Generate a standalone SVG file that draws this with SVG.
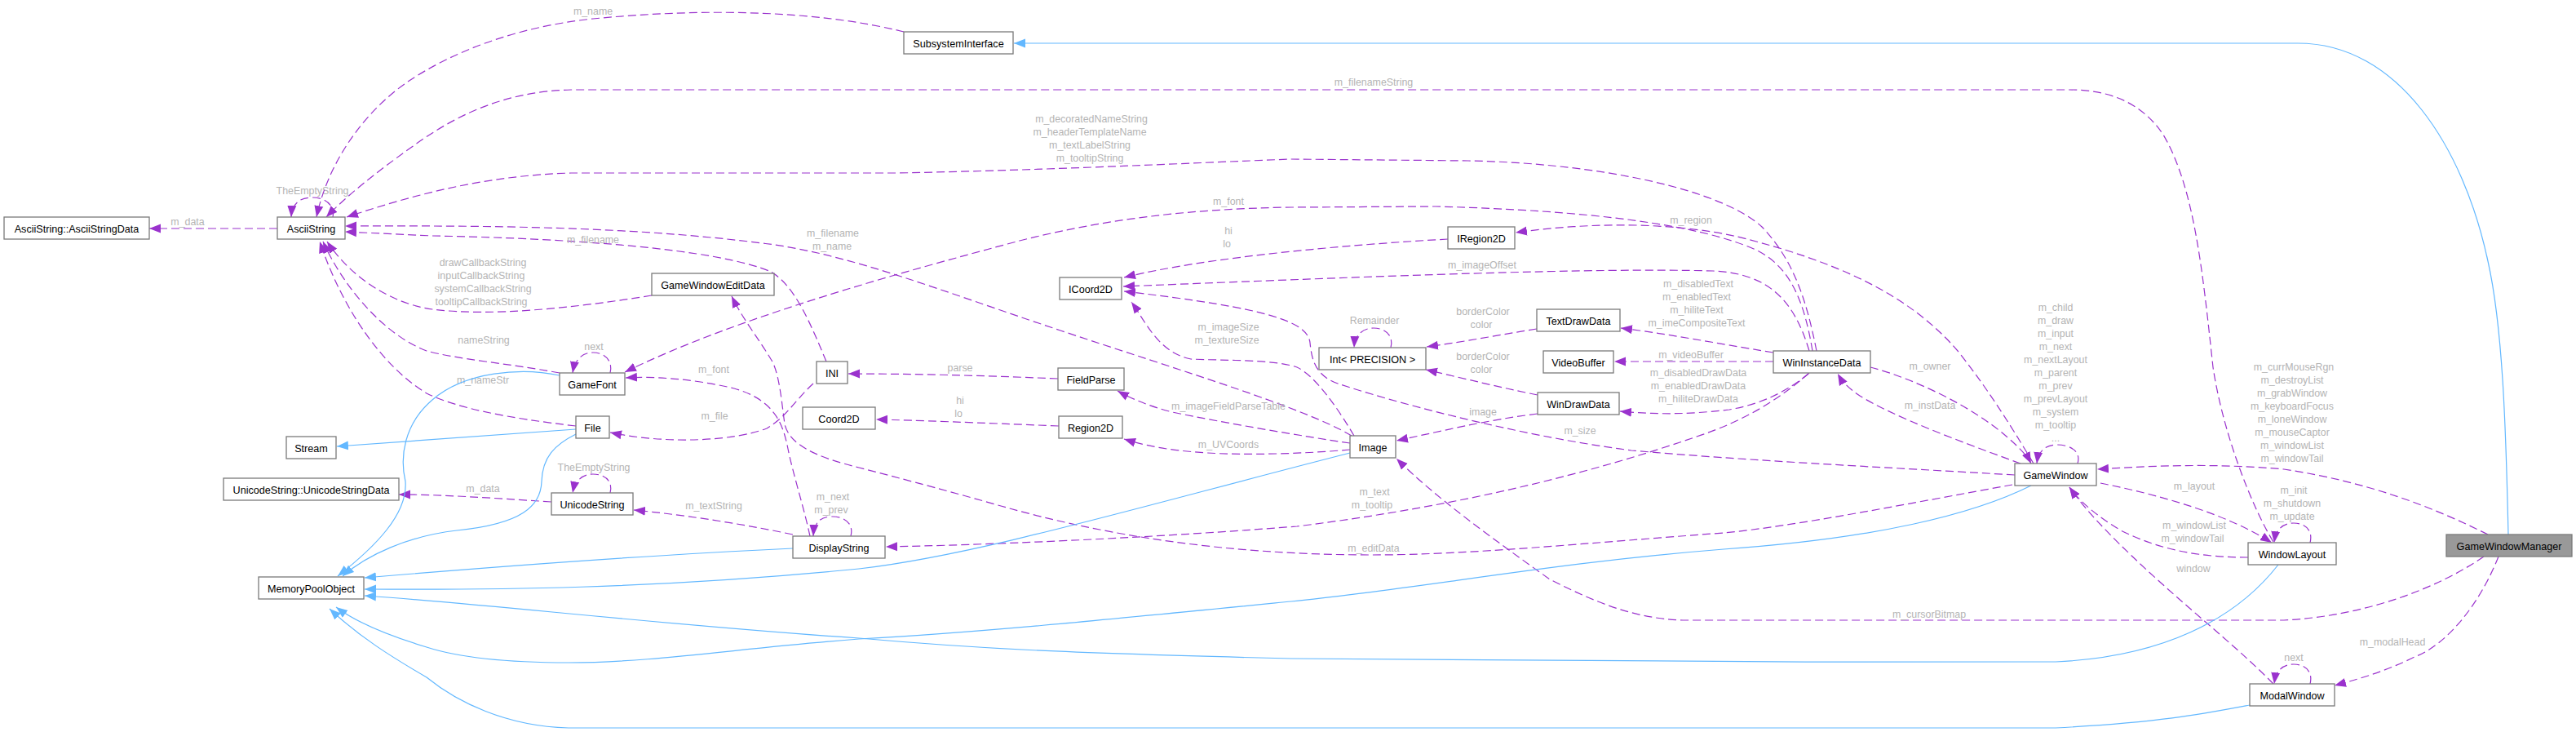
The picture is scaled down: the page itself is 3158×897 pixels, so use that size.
<svg xmlns="http://www.w3.org/2000/svg" width="3158" height="897" viewBox="0 0 3158 897">
<style>
.n rect{fill:#fff;stroke:#7a7a7a;stroke-width:1.3}
.n text{font-family:"Liberation Sans",Arial,sans-serif;font-size:12.6px;fill:#000;text-anchor:middle}
.d{fill:none;stroke:#9a32cd;stroke-width:1.2;stroke-dasharray:10,5;marker-end:url(#ap)}
.b{fill:none;stroke:#63b8ff;stroke-width:1.2;marker-end:url(#ab)}
.l{font-family:"Liberation Sans",Arial,sans-serif;font-size:12.4px;fill:#b4b4b4;text-anchor:middle}
</style>
<defs>
<marker id="ap" viewBox="0 0 15 12" markerWidth="15" markerHeight="12" refX="14" refY="6" orient="auto" markerUnits="userSpaceOnUse"><path d="M0,0.5 L14,6 L0,11.5 z" fill="#9a32cd" stroke="none"/></marker>
<marker id="ab" viewBox="0 0 15 12" markerWidth="15" markerHeight="12" refX="14" refY="6" orient="auto" markerUnits="userSpaceOnUse"><path d="M0,0.5 L14,6 L0,11.5 z" fill="#63b8ff" stroke="none"/></marker>
</defs>
<rect width="3158" height="897" fill="#fff"/>
<g id="edges">
<path class="d" d="M340,280 L183,280"/><text class="l" x="230" y="276">m_data</text>
<path class="d" d="M408,266 C411,251 398,242 383,242 C368,242 358,249 357,266"/><text class="l" x="383" y="238">TheEmptyString</text>
<path class="d" d="M1108,39 C1000,12 860,10 727,23 C640,32 560,60 500,100 C445,138 402,200 388,266"/><text class="l" x="727" y="18">m_name</text>
<path class="d" d="M2787,664 C2760,620 2725,530 2713,450 C2700,330 2690,230 2652,165 C2625,125 2585,110 2537,110 L700,110 C620,112 560,140 505,180 C460,212 425,240 400,266"/><text class="l" x="1684" y="105">m_filenameString</text>
<path class="d" d="M2227,430 C2215,370 2200,320 2160,278 C2110,232 1960,200 1800,197 L1583,195 C1450,200 1300,208 1100,212 L700,212 C600,215 515,236 425,266"/>
<text class="l" x="1338" y="150">m_decoratedNameString</text><text class="l" x="1336" y="166">m_headerTemplateName</text><text class="l" x="1336" y="182">m_textLabelString</text><text class="l" x="1336" y="198">m_tooltipString</text>
<path class="d" d="M2222,430 C2212,370 2195,325 2150,305 C2080,275 1950,258 1760,253 L1583,254 C1450,256 1350,270 1250,295 C1100,335 900,390 766,456"/><text class="l" x="1506" y="251">m_font</text>
<path class="d" d="M2493,568 C2470,530 2440,480 2400,430 C2340,360 2250,320 2130,290 C2050,272 1950,272 1858,285"/><text class="l" x="2073" y="274">m_region</text>
<path class="d" d="M2218,430 C2200,370 2170,335 2100,332 C1950,328 1700,338 1377,351"/><text class="l" x="1817" y="329">m_imageOffset</text>
<path class="d" d="M1775,293 C1650,300 1480,315 1378,340"/><text class="l" x="1506" y="287">hi</text><text class="l" x="1504" y="303">lo</text>
<path class="d" d="M2470,582 C2300,572 2150,565 2000,552 C1850,532 1700,490 1640,470 C1612,460 1608,440 1606,420 C1603,395 1560,378 1378,357"/><text class="l" x="1937" y="532">m_size</text>
<path class="d" d="M1660,534 C1640,500 1612,460 1590,450 C1560,440 1500,442 1460,440 C1420,432 1405,395 1387,370"/><text class="l" x="1506" y="405">m_imageSize</text><text class="l" x="1504" y="421">m_textureSize</text>
<path class="d" d="M1657,534 C1600,500 1450,455 1300,405 C1150,355 1050,315 950,300 C800,280 650,276 423,277"/><text class="l" x="1021" y="290">m_filename</text><text class="l" x="1020" y="306">m_name</text>
<path class="d" d="M1013,443 C995,400 975,350 945,333 C880,305 700,292 530,289 L423,284"/><text class="l" x="727" y="298">m_filename</text>
<path class="d" d="M799,362 C700,378 600,388 530,379 C480,372 430,340 401,296"/>
<text class="l" x="592" y="326">drawCallbackString</text><text class="l" x="590" y="342">inputCallbackString</text><text class="l" x="592" y="358">systemCallbackString</text><text class="l" x="590" y="374">tooltipCallbackString</text>
<path class="d" d="M686,457 C620,445 560,440 523,430 C470,410 420,350 396,296"/><text class="l" x="593" y="421">nameString</text>
<path class="d" d="M706,522 C620,512 560,500 523,482 C470,450 420,380 392,296"/><text class="l" x="592" y="470">m_nameStr</text>
<path class="d" d="M748,457 C752,441 740,432 727,432 C714,432 705,440 702,457"/><text class="l" x="728" y="429">next</text>
<path class="d" d="M993,657 C985,620 972,580 966,550 C960,520 950,490 900,476 C850,464 800,461 767,463"/><text class="l" x="875" y="457">m_font</text>
<path class="d" d="M997,470 C975,490 965,510 940,525 C900,540 820,545 748,530"/><text class="l" x="876" y="514">m_file</text>
<path class="d" d="M1297,464 C1200,460 1120,458 1040,458"/><text class="l" x="1177" y="455">parse</text>
<path class="d" d="M1298,522 C1200,518 1120,515 1074,514"/><text class="l" x="1177" y="495">hi</text><text class="l" x="1175" y="511">lo</text>
<path class="d" d="M1655,543 C1600,535 1500,518 1437,505 C1410,498 1390,490 1370,479"/><text class="l" x="1506" y="502">m_imageFieldParseTable</text>
<path class="d" d="M1655,551 C1600,556 1530,558 1480,555 C1430,552 1400,545 1378,538"/><text class="l" x="1506" y="549">m_UVCoords</text>
<path class="d" d="M1043,657 C1047,641 1035,633 1020,633 C1005,633 998,641 997,657"/><text class="l" x="1021" y="613">m_next</text><text class="l" x="1019" y="629">m_prev</text>
<path class="d" d="M972,655 C900,640 830,630 777,625"/><text class="l" x="875" y="624">m_textString</text>
<path class="d" d="M676,615 C600,610 540,606 489,606"/><text class="l" x="592" y="603">m_data</text>
<path class="d" d="M748,604 C752,588 740,581 727,581 C714,581 705,589 702,604"/><text class="l" x="728" y="577">TheEmptyString</text>
<path class="d" d="M2218,457 C2180,490 2140,515 2080,535 C1950,580 1790,620 1590,645 C1400,660 1200,668 1086,670"/><text class="l" x="1685" y="607">m_text</text><text class="l" x="1682" y="623">m_tooltip</text>
<path class="d" d="M2217,458 C2190,480 2160,495 2120,502 C2070,508 2030,508 1986,504"/>
<text class="l" x="2082" y="461">m_disabledDrawData</text><text class="l" x="2082" y="477">m_enabledDrawData</text><text class="l" x="2082" y="493">m_hiliteDrawData</text>
<path class="d" d="M2174,432 C2100,420 2050,410 1987,402"/>
<text class="l" x="2082" y="352">m_disabledText</text><text class="l" x="2080" y="368">m_enabledText</text><text class="l" x="2080" y="384">m_hiliteText</text><text class="l" x="2080" y="400">m_imeCompositeText</text>
<path class="d" d="M2174,443 L1979,443"/><text class="l" x="2073" y="439">m_videoBuffer</text>
<path class="d" d="M1884,403 C1840,410 1800,418 1749,425"/><text class="l" x="1818" y="386">borderColor</text><text class="l" x="1816" y="402">color</text>
<path class="d" d="M1885,484 C1840,475 1800,465 1748,453"/><text class="l" x="1818" y="441">borderColor</text><text class="l" x="1816" y="457">color</text>
<path class="d" d="M1705,426 C1709,410 1697,402 1684,402 C1671,402 1661,410 1660,426"/><text class="l" x="1685" y="397">Remainder</text>
<path class="d" d="M1885,507 C1820,515 1760,530 1712,540"/><text class="l" x="1818" y="509">image</text>
<path class="d" d="M2467,594 C2350,615 2200,645 2113,653 C1950,665 1800,680 1683,680 C1500,680 1350,655 1227,620 C1150,598 1080,580 1053,573 C1000,560 968,545 962,520 C958,490 955,455 945,440 C930,415 910,390 897,363"/><text class="l" x="1684" y="676">m_editData</text>
<path class="d" d="M2477,568 C2400,540 2320,510 2280,485 C2265,475 2258,467 2253,458"/><text class="l" x="2366" y="501">m_instData</text>
<path class="d" d="M2293,450 C2350,465 2420,500 2460,535 C2475,548 2485,558 2490,568"/><text class="l" x="2366" y="453">m_owner</text>
<path class="d" d="M2547,568 C2552,552 2536,545 2522,545 C2508,545 2499,552 2497,568"/>
<text class="l" x="2520" y="381">m_child</text><text class="l" x="2520" y="397">m_draw</text><text class="l" x="2520" y="413">m_input</text><text class="l" x="2520" y="429">m_next</text><text class="l" x="2520" y="445">m_nextLayout</text><text class="l" x="2520" y="461">m_parent</text><text class="l" x="2520" y="477">m_prev</text><text class="l" x="2520" y="493">m_prevLayout</text><text class="l" x="2520" y="509">m_system</text><text class="l" x="2520" y="525">m_tooltip</text><text class="l" x="2520" y="541">...</text>
<path class="d" d="M3050,655 C2980,620 2900,590 2800,575 C2720,568 2650,570 2571,575"/>
<text class="l" x="2812" y="454">m_currMouseRgn</text><text class="l" x="2810" y="470">m_destroyList</text><text class="l" x="2810" y="486">m_grabWindow</text><text class="l" x="2810" y="502">m_keyboardFocus</text><text class="l" x="2810" y="518">m_loneWindow</text><text class="l" x="2810" y="534">m_mouseCaptor</text><text class="l" x="2810" y="550">m_windowList</text><text class="l" x="2810" y="566">m_windowTail</text>
<path class="d" d="M2575,592 C2650,607 2730,630 2785,665"/><text class="l" x="2690" y="600">m_layout</text>
<path class="d" d="M2832,665 C2836,649 2825,641 2812,641 C2798,641 2790,649 2788,665"/><text class="l" x="2812" y="605">m_init</text><text class="l" x="2810" y="621">m_shutdown</text><text class="l" x="2810" y="637">m_update</text>
<path class="d" d="M2756,683 C2700,683 2650,675 2600,650 C2570,632 2550,615 2537,597"/><text class="l" x="2690" y="648">m_windowList</text><text class="l" x="2688" y="664">m_windowTail</text>
<path class="d" d="M2787,838 C2750,800 2700,760 2650,715 C2600,670 2560,630 2537,597"/><text class="l" x="2689" y="701">window</text>
<path class="d" d="M2832,838 C2836,822 2825,814 2812,814 C2798,814 2790,822 2788,838"/><text class="l" x="2812" y="810">next</text>
<path class="d" d="M3063,682 C3040,740 3000,790 2960,805 C2930,820 2900,830 2862,840"/><text class="l" x="2933" y="791">m_modalHead</text>
<path class="d" d="M3045,682 C2990,720 2900,755 2800,760 L2063,760 C2000,758 1950,735 1900,710 C1830,660 1760,610 1712,562"/><text class="l" x="2365" y="757">m_cursorBitmap</text>
<path class="b" d="M3075,655 C3072,520 3068,400 3050,320 C3020,180 2940,53 2817,53 L1243,53"/>
<path class="b" d="M706,526 L413,547"/>
<path class="b" d="M706,532 C680,545 665,560 664,590 C663,620 640,642 560,650 C500,657 450,680 420,706"/>
<path class="b" d="M686,460 C640,450 570,455 530,490 C495,520 490,560 497,590 C500,630 460,670 414,706"/>
<path class="b" d="M972,672 C800,680 600,695 447,708"/>
<path class="b" d="M1655,555 C1400,620 1200,680 1053,697 C800,722 600,723 447,722"/>
<path class="b" d="M2793,692 C2740,760 2650,805 2520,811 C2200,812 1800,810 1583,807 C1300,800 1200,795 1053,782 C800,765 600,740 447,730"/>
<path class="b" d="M2490,595 C2420,630 2300,660 2113,673 C1900,690 1750,720 1583,737 C1350,760 1200,775 1053,783 C900,795 800,812 697,812 C620,812 560,805 523,793 C480,780 440,765 412,744"/>
<path class="b" d="M2758,864 C2700,875 2650,885 2520,892 L697,892 C620,890 560,860 523,830 C480,805 440,780 404,746"/>
</g>
<g id="AsciiStringData" class="n"><rect x="5" y="266" width="178" height="27"/><text x="94" y="284.5">AsciiString::AsciiStringData</text></g>
<g id="AsciiString" class="n"><rect x="340" y="266" width="83" height="27"/><text x="381.5" y="284.5">AsciiString</text></g>
<g id="SubsystemInterface" class="n"><rect x="1108" y="39" width="134" height="27"/><text x="1175" y="57.5">SubsystemInterface</text></g>
<g id="GameWindowEditData" class="n"><rect x="799" y="335" width="150" height="27"/><text x="874" y="353.5">GameWindowEditData</text></g>
<g id="ICoord2D" class="n"><rect x="1299" y="340" width="76" height="27"/><text x="1337" y="358.5">ICoord2D</text></g>
<g id="IRegion2D" class="n"><rect x="1775" y="278" width="82" height="27"/><text x="1816" y="296.5">IRegion2D</text></g>
<g id="TextDrawData" class="n"><rect x="1884" y="379" width="102" height="27"/><text x="1935" y="397.5">TextDrawData</text></g>
<g id="IntPrecision" class="n"><rect x="1617" y="426" width="131" height="27"/><text x="1682.5" y="444.5">Int&lt; PRECISION &gt;</text></g>
<g id="VideoBuffer" class="n"><rect x="1892" y="430" width="86" height="27"/><text x="1935" y="448.5">VideoBuffer</text></g>
<g id="WinInstanceData" class="n"><rect x="2174" y="430" width="119" height="27"/><text x="2233.5" y="448.5">WinInstanceData</text></g>
<g id="WinDrawData" class="n"><rect x="1885" y="481" width="100" height="27"/><text x="1935" y="499.5">WinDrawData</text></g>
<g id="Image" class="n"><rect x="1655" y="534" width="56" height="27"/><text x="1683" y="552.5">Image</text></g>
<g id="GameWindow" class="n"><rect x="2470" y="568" width="100" height="27"/><text x="2520" y="586.5">GameWindow</text></g>
<g id="WindowLayout" class="n"><rect x="2756" y="665" width="108" height="27"/><text x="2810" y="683.5">WindowLayout</text></g>
<g id="GameWindowManager" class="n"><rect x="2999" y="655" width="154" height="27" style="fill:#999999"/><text x="3076" y="673.5">GameWindowManager</text></g>
<g id="ModalWindow" class="n"><rect x="2758" y="838" width="104" height="27"/><text x="2810" y="856.5">ModalWindow</text></g>
<g id="Stream" class="n"><rect x="351" y="535" width="61" height="27"/><text x="381.5" y="553.5">Stream</text></g>
<g id="UnicodeStringData" class="n"><rect x="274" y="586" width="215" height="27"/><text x="381.5" y="604.5">UnicodeString::UnicodeStringData</text></g>
<g id="MemoryPoolObject" class="n"><rect x="317" y="707" width="129" height="27"/><text x="381.5" y="725.5">MemoryPoolObject</text></g>
<g id="GameFont" class="n"><rect x="686" y="457" width="80" height="27"/><text x="726" y="475.5">GameFont</text></g>
<g id="File" class="n"><rect x="706" y="510" width="41" height="27"/><text x="726.5" y="528.5">File</text></g>
<g id="UnicodeString" class="n"><rect x="676" y="604" width="100" height="27"/><text x="726" y="622.5">UnicodeString</text></g>
<g id="INI" class="n"><rect x="1001" y="443" width="38" height="27"/><text x="1020" y="461.5">INI</text></g>
<g id="Coord2D" class="n"><rect x="984" y="499" width="89" height="27"/><text x="1028.5" y="517.5">Coord2D</text></g>
<g id="DisplayString" class="n"><rect x="972" y="657" width="113" height="27"/><text x="1028.5" y="675.5">DisplayString</text></g>
<g id="FieldParse" class="n"><rect x="1297" y="451" width="81" height="27"/><text x="1337.5" y="469.5">FieldParse</text></g>
<g id="Region2D" class="n"><rect x="1298" y="510" width="78" height="27"/><text x="1337" y="528.5">Region2D</text></g>
</svg>
